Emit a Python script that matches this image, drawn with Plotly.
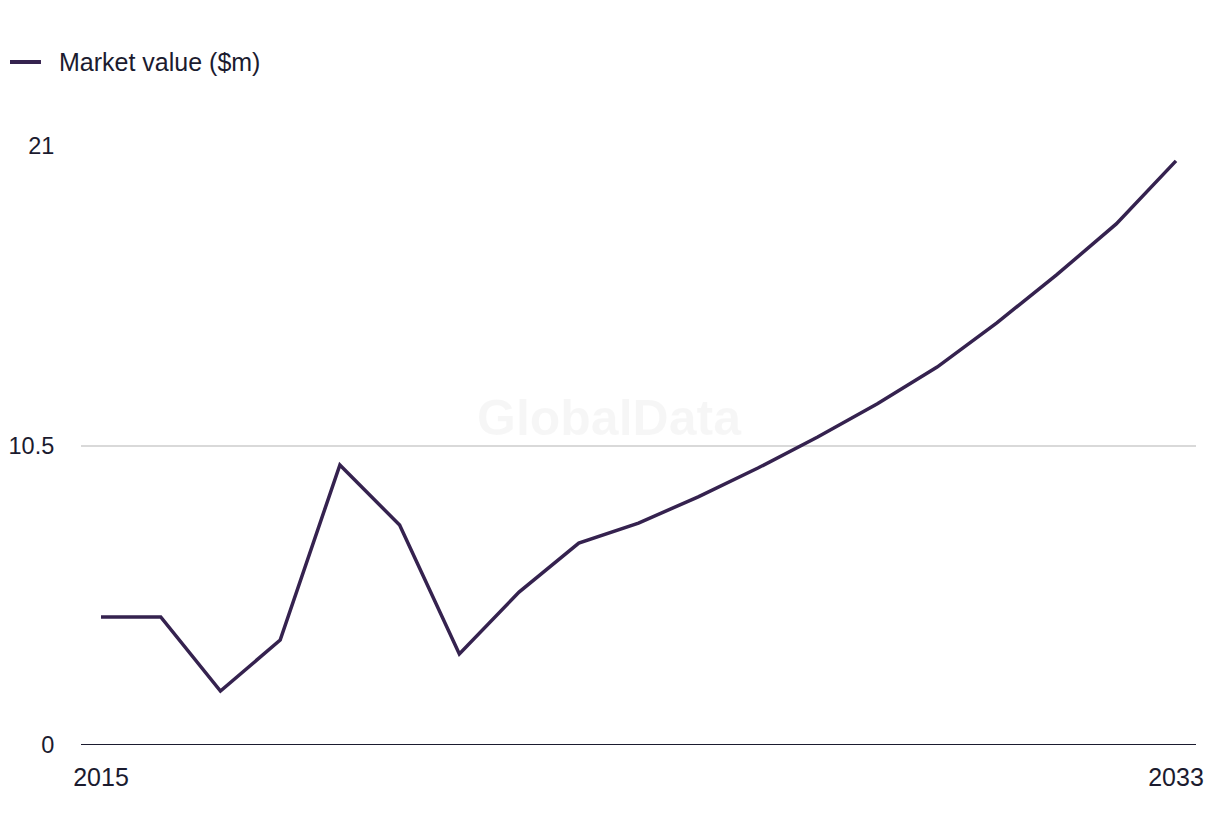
import plotly.graph_objects as go

years = list(range(2015, 2034))
market_value = [4.49, 4.49, 1.89, 3.68, 9.82, 7.71, 3.19, 5.36, 7.08, 7.78,
                8.70, 9.71, 10.80, 11.96, 13.25, 14.80, 16.48, 18.27, 20.48]
series_name = "Market value ($m)"
y_ticks = [0, 10.5, 21]
y_tick_text = ["0", "10.5", "21"]
x_ticks = [2015, 2033]
x_tick_text = ["2015", "2033"]

FONT = "Liberation Sans, Arial, sans-serif"
TEXT = "#1b1b2f"
LINE = "#35224f"

fig = go.Figure()
fig.add_trace(go.Scatter(
    x=years, y=market_value, mode="lines", name=series_name,
    line=dict(color=LINE, width=3.5), showlegend=False,
))

# manual legend (line sample + label)
leg_y = 1.1402
fig.add_shape(type="line", xref="paper", yref="paper",
              x0=-0.0637, x1=-0.0359, y0=leg_y, y1=leg_y,
              line=dict(color=LINE, width=4))

fig.update_layout(
    width=1220, height=836,
    paper_bgcolor="white", plot_bgcolor="white",
    margin=dict(l=73, r=32, t=138, b=99),
    font=dict(family=FONT, color=TEXT, size=24),
    xaxis=dict(
        range=[2014.665, 2033.335], tickvals=x_ticks, ticktext=x_tick_text,
        showgrid=False, zeroline=False, showline=False, automargin=False,
        ticks="outside", ticklen=10, tickcolor="rgba(0,0,0,0)",
        tickfont=dict(size=25, color=TEXT),
    ),
    yaxis=dict(
        range=[0, 21], tickvals=y_ticks, ticktext=y_tick_text,
        showgrid=True, gridcolor="#d9d9d9", gridwidth=1.5,
        zeroline=False, showline=False, automargin=False,
        ticks="outside", ticklen=21, tickcolor="rgba(0,0,0,0)",
        tickfont=dict(size=23.5, color=TEXT),
    ),
    annotations=[
        dict(text=series_name, xref="paper", yref="paper",
             x=-0.0215, y=leg_y, xanchor="left", yanchor="middle",
             showarrow=False, font=dict(size=25, color=TEXT)),
        dict(text="<b>GlobalData</b>", xref="paper", yref="paper",
             x=0.474, y=0.546, showarrow=False,
             font=dict(size=50, color="rgba(0,0,0,0.035)",
                       family="Liberation Sans, Arial, sans-serif")),
    ],
)
fig.add_shape(type="line", xref="paper", yref="y", x0=0, x1=1, y0=0, y1=0,
              line=dict(color=TEXT, width=2))

fig.write_html("out.html")
